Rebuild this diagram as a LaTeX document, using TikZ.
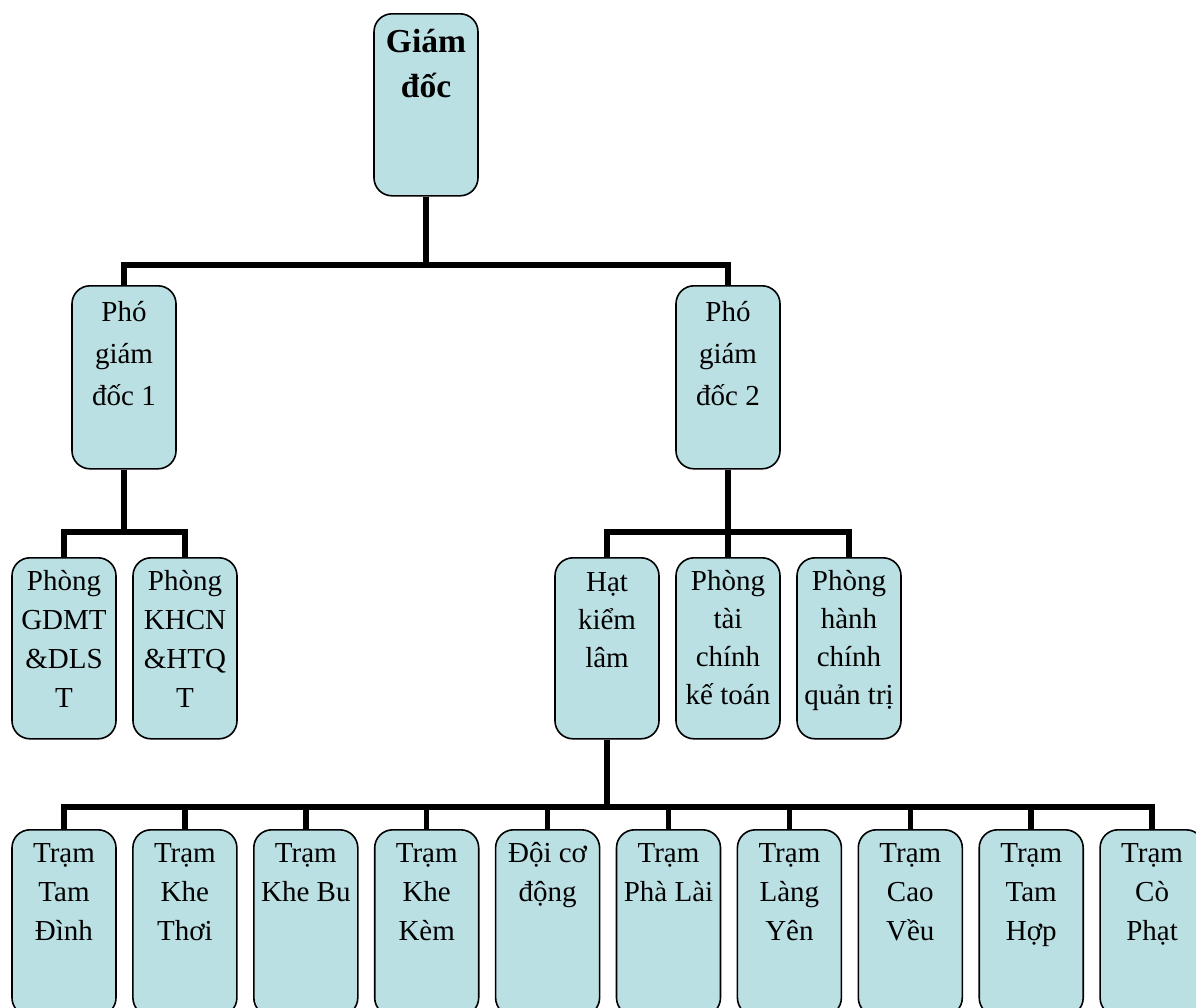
\documentclass[tikz,border=0pt]{standalone}
\usepackage{fontspec}
\setmainfont{Liberation Serif}
\definecolor{boxfill}{RGB}{187,224,227}
\tikzset{
  orgbox/.style={draw=black, line width=1.6pt, fill=boxfill, rounded corners=18pt, inner sep=0pt, anchor=north},
  conn/.style={draw=black, line width=5.5pt, line join=miter}
}
% name, cx, top, height, first baseline, font size, skip, text
\newcommand\obox[8]{%
  \node[orgbox] (#1) at (#2pt,-#3pt) {\parbox[c][#4pt][t]{104pt}{\fontsize{#6}{#7}\selectfont\centering\rule{0pt}{#5pt}#8\par}};}
\begin{document}
\begin{tikzpicture}
\useasboundingbox (0,0) rectangle (1196pt,-1007pt);
\clip (0,0) rectangle (1196pt,-1007pt);
\fill[white] (0,0) rectangle (1196pt,-1007pt);
% top
\obox{gd}{426}{13}{182}{39}{33.5}{45}{\bfseries Giám\\đốc}
\obox{p1}{124}{285}{183}{36}{29}{42}{Phó\\giám\\đốc 1}
\obox{p2}{728}{285}{183}{36}{29}{42}{Phó\\giám\\đốc 2}
% level 2
\obox{k1}{64}{557}{181}{33}{29}{39}{Phòng\\GDMT\\\&DLS\\T}
\obox{k2}{185}{557}{181}{33}{29}{39}{Phòng\\KHCN\\\&HTQ\\T}
\obox{h1}{607}{557}{181}{34}{29}{38}{Hạt\\kiểm\\lâm}
\obox{h2}{728}{557}{181}{33}{29}{38}{Phòng\\tài\\chính\\kế toán}
\obox{h3}{849}{557}{181}{33}{29}{38}{Phòng\\hành\\chính\\quản trị}
% level 3
\obox{t1}{64}{829}{186}{33}{29}{39}{Trạm\\Tam\\Đình}
\obox{t2}{184.9}{829}{186}{33}{29}{39}{Trạm\\Khe\\Thơi}
\obox{t3}{305.8}{829}{186}{33}{29}{39}{Trạm\\Khe Bu}
\obox{t4}{426.7}{829}{186}{33}{29}{39}{Trạm\\Khe\\Kèm}
\obox{t5}{547.6}{829}{186}{33}{29}{39}{Đội cơ\\động}
\obox{t6}{668.5}{829}{186}{33}{29}{39}{Trạm\\Phà Lài}
\obox{t7}{789.4}{829}{186}{33}{29}{39}{Trạm\\Làng\\Yên}
\obox{t8}{910.3}{829}{186}{33}{29}{39}{Trạm\\Cao\\Vều}
\obox{t9}{1031.2}{829}{186}{33}{29}{39}{Trạm\\Tam\\Hợp}
\obox{t10}{1152.1}{829}{186}{33}{29}{39}{Trạm\\Cò\\Phạt}
% bus points
\coordinate (b1) at (426pt,-265pt);
\coordinate (b2) at (124pt,-532pt);
\coordinate (b3) at (728pt,-532pt);
\coordinate (b4) at (607pt,-807pt);
% connectors
\draw[conn] (gd.south) -- (b1);
\draw[conn] (p1.north) |- (b1) -| (p2.north);
\draw[conn] (p1.south) -- (b2);
\draw[conn] (k1.north) |- (b2) -| (k2.north);
\draw[conn] (p2.south) -- (h2.north);
\draw[conn] (h1.north) |- (b3) -| (h3.north);
\draw[conn] (h1.south) -- (b4);
\draw[conn] (t1.north) |- (b4) -| (t10.north);
\foreach \i in {2,...,9} {\draw[conn] (t\i.north) -- (t\i.north |- b4);}
\end{tikzpicture}
\end{document}
